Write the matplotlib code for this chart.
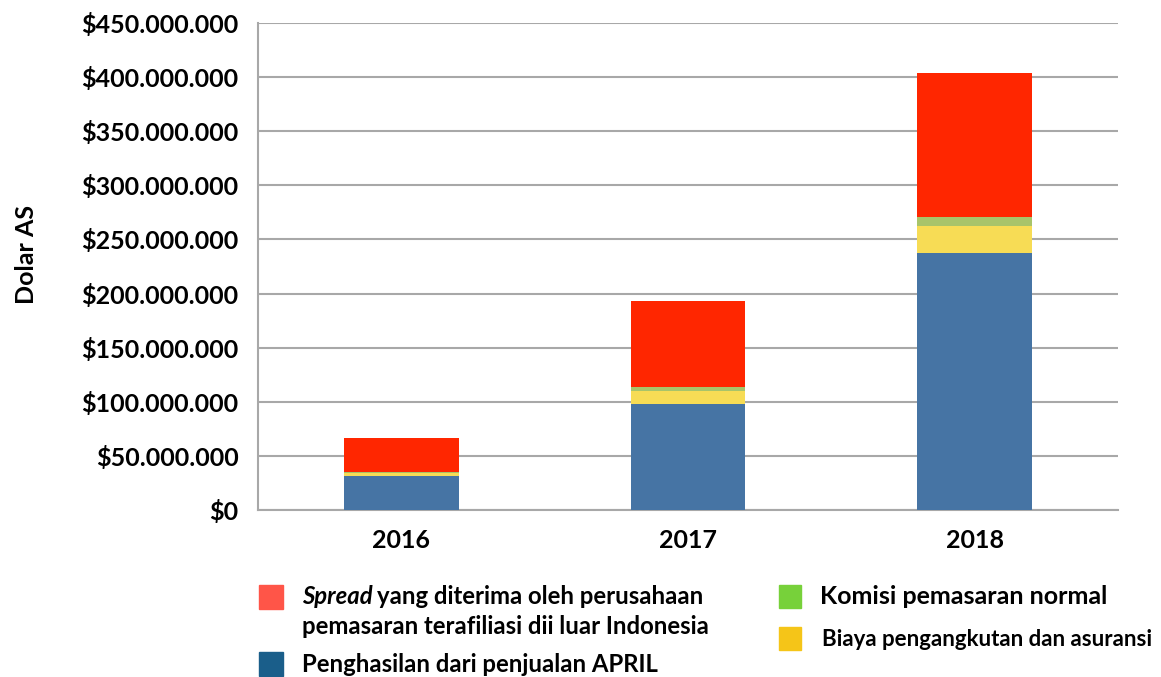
import matplotlib
matplotlib.use("Agg")
import matplotlib.pyplot as plt
from matplotlib.patches import Rectangle
from matplotlib.ticker import FuncFormatter
import numpy as np

plt.rcParams['font.family'] = ['Lato', 'DejaVu Sans']
plt.rcParams['font.weight'] = 'bold'

years = ["2016", "2017", "2018"]
penghasilan = [31.0e6, 98.0e6, 237.5e6]
biaya = [3.5e6, 12.0e6, 25.0e6]
komisi = [1.0e6, 3.5e6, 8.0e6]
spread = [31.0e6, 79.5e6, 133.5e6]

series = [
    (penghasilan, "#4674A4"),
    (biaya, "#F7DC55"),
    (komisi, "#A8C46A"),
    (spread, "#FF2600"),
]

fig = plt.figure(figsize=(11.61, 6.77), dpi=100)
ax = fig.add_axes([258/1161, 1-510/677, 860/1161, 487/677])

x = np.arange(len(years))
bottom = np.zeros(len(years))
for vals, col in series:
    ax.bar(x, vals, bottom=bottom, width=0.4, color=col, zorder=3)
    bottom += np.array(vals)

ax.set_xlim(-0.5, 2.5)
ax.set_ylim(0, 450e6)
ax.set_yticks(np.arange(0, 450e6 + 1, 50e6))
ax.yaxis.set_major_formatter(FuncFormatter(lambda v, p: "$" + f"{int(v):,}".replace(",", ".")))
ax.set_xticks(x)
ax.set_xticklabels(years)
ax.tick_params(axis='both', length=0, labelsize=18)
ax.tick_params(axis='y', pad=14)
ax.tick_params(axis='x', pad=14)
ax.grid(axis='y', color='#A8A8A8', linewidth=1.5, zorder=0)
for s in ['top', 'right']:
    ax.spines[s].set_visible(False)
ax.spines['left'].set_color('#A8A8A8')
ax.spines['left'].set_linewidth(1.5)
ax.spines['bottom'].set_color('#A8A8A8')
ax.spines['bottom'].set_linewidth(1.5)
ax.set_ylabel("Dolar AS", fontsize=18, fontweight='bold')
ax.yaxis.set_label_coords((38 - 258) / 860, (510 - 255) / 487)

# legend
W, H = 1161, 677
def patch(x0, y0, w, h, col):
    fig.patches.append(Rectangle((x0/W, 1-(y0+h)/H), w/W, h/H, color=col, transform=fig.transFigure))

def txt(x0, yc, s, fs=17.2, **kw):
    fig.text(x0/W, 1-yc/H, s, fontsize=fs, fontweight='bold', va='center', ha='left', **kw)

patch(259, 585, 24, 24, "#FF5548")
txt(302, 597, "Spread", fontstyle='italic')
txt(377, 597, "yang diterima oleh perusahaan")
txt(302, 627, "pemasaran terafiliasi dii luar Indonesia")
patch(259, 652, 24, 24, "#1A5E8A")
txt(302, 664, "Penghasilan dari penjualan APRIL")
patch(779, 585, 22, 23, "#77D13A")
txt(820, 597, "Komisi pemasaran normal", fs=18)
patch(779, 627, 22, 23, "#F5C518")
txt(822, 639, "Biaya pengangkutan dan asuransi", fs=16)

fig.savefig("out.png", dpi=100)
